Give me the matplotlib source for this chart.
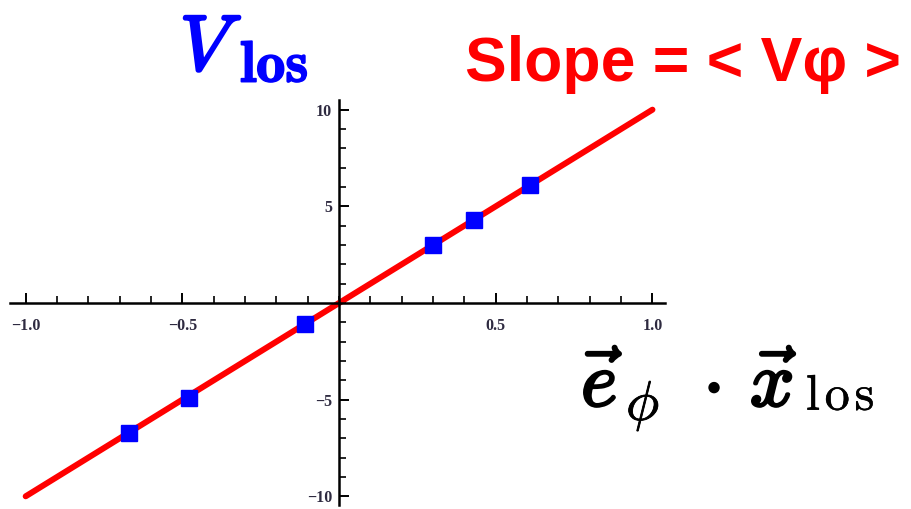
import numpy as np
import matplotlib.pyplot as plt
import matplotlib.patheffects as pe

# measured projections and line-of-sight velocities
e_dot_x = [-0.67, -0.48, -0.11, 0.30, 0.43, 0.61]
v_los = [-6.7, -4.9, -1.1, 3.0, 4.3, 6.1]

# fitted rotation: slope = <V_phi>
slope = 10.0
fit_x = [-1.0, 1.0]

x_ticks = [-1.0, -0.5, 0.5, 1.0]
x_ticklabels = ['\u22121.0', '\u22120.5', '0.5', '1.0']
y_ticks = [-10, -5, 5, 10]
y_ticklabels = ['\u221210', '\u22125', '5', '10']

W, H = 912, 509
plt.rcParams['mathtext.fontset'] = 'cm'

fig = plt.figure(figsize=(W / 100, H / 100), dpi=100)
ax = fig.add_axes([10 / W, 1 - 505 / H, 655 / W, 405 / H])


def put(x, y, s, **kw):
    # place text by pixel position (from top-left), baseline anchored
    kw.setdefault('va', 'baseline')
    return fig.text(x / W, 1 - y / H, s, **kw)


ax.plot(fit_x, [slope * v for v in fit_x], color='red', lw=4.3, solid_capstyle='round', zorder=2)
ax.plot(e_dot_x, v_los, 's', color='blue', ms=11.5, zorder=3)

ax.set_xlim(-1.05, 1.04)
ax.set_ylim(-10.45, 10.5)

# axes crossing at the origin
for side in ['top', 'right']:
    ax.spines[side].set_visible(False)
ax.spines['left'].set_position(('data', 0))
ax.spines['bottom'].set_position(('data', 0))
ax.spines['left'].set_linewidth(1.8)
ax.spines['bottom'].set_linewidth(1.8)

ax.set_xticks(x_ticks)
ax.set_xticklabels(x_ticklabels)
ax.set_yticks(y_ticks)
ax.set_yticklabels(y_ticklabels)
ax.set_xticks(np.arange(-1.0, 1.01, 0.1), minor=True)
ax.set_yticks(np.arange(-10, 11, 1), minor=True)
ax.tick_params(which='major', direction='in', length=7, width=1.4, labelsize=11.5)
ax.tick_params(which='minor', direction='in', length=5, width=1.2)
ax.tick_params(axis='y', which='major', pad=5)
ax.tick_params(axis='x', which='major', pad=11)
for lab in ax.get_xticklabels() + ax.get_yticklabels():
    lab.set_family('Liberation Serif')
    lab.set_weight('bold')
    lab.set_color('#2e2a40')

# y label: V_los
put(180, 70, r'$V$', color='blue', fontsize=56,
    path_effects=[pe.withStroke(linewidth=2.2, foreground='blue')])
put(240, 82, r'$\mathbf{los}$', color='blue', fontsize=42,
    path_effects=[pe.withStroke(linewidth=1.2, foreground='blue')])

put(465, 81, 'Slope = < V\u03c6 >', color='red', fontsize=45,
    fontweight='bold', family='Liberation Sans')

# x label: e_phi . x_los
bold_black = [pe.withStroke(linewidth=2.0, foreground='black')]
put(581, 406, r'$\vec{e}$', color='black', fontsize=56, path_effects=bold_black)
put(626, 420, r'$\phi$', color='black', fontsize=40,
    path_effects=[pe.withStroke(linewidth=0.6, foreground='black')])
put(712, 406, r'$\cdot$', color='black', fontsize=52, ha='center',
    path_effects=[pe.withStroke(linewidth=2.5, foreground='black')])
put(750, 406, r'$\vec{x}$', color='black', fontsize=56, path_effects=bold_black)
put(806, 410, r'$\mathrm{l\!\;o\!\;s}$', color='black', fontsize=36,
    path_effects=[pe.withStroke(linewidth=0.4, foreground='black')])

fig.savefig('out.png', dpi=100)
